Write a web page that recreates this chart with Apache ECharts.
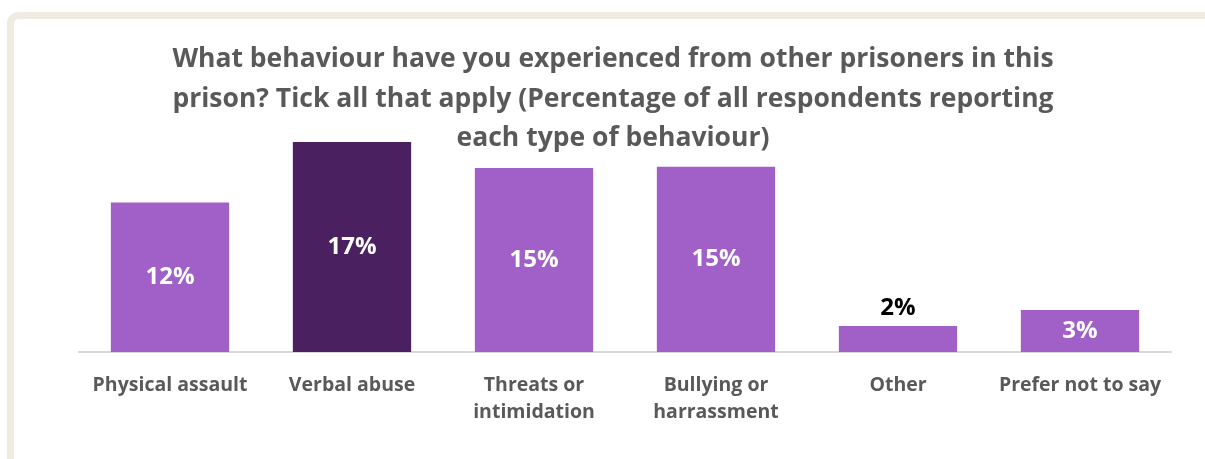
<!DOCTYPE html>
<html>
<head>
<meta charset="utf-8">
<script src="https://cdn.jsdelivr.net/npm/echarts@6/dist/echarts.min.js"></script>
<style>
html,body{margin:0;padding:0;background:#fff;}
#chart{width:1205px;height:459px;}
</style>
</head>
<body>
<div id="chart"></div>
<script>
const titleText = "What behaviour have you experienced from other prisoners in this\nprison? Tick all that apply (Percentage of all respondents reporting\neach type of behaviour)";
const categories = ["Physical assault", "Verbal abuse", "Threats or\nintimidation", "Bullying or\nharrassment", "Other", "Prefer not to say"];
const values = [12.1, 17.0, 14.9, 15.0, 2.1, 3.4];
const barColors = ["#A160C7", "#4A2060", "#A160C7", "#A160C7", "#A160C7", "#A160C7"];
const outsideLabel = [false, false, false, false, true, false];

const chart = echarts.init(document.getElementById('chart'), null, {renderer: 'canvas'});
const font = '"Open Sans", sans-serif';
chart.setOption({
  animation: false,
  graphic: [{
    type: 'rect',
    shape: {x: 10.5, y: 15.5, width: 1400, height: 700, r: 8},
    style: {fill: null, stroke: '#EEEBE0', lineWidth: 7},
    z: 0
  }],
  title: {
    text: titleText,
    left: 608,
    top: 35,
    textAlign: 'center',
    textStyle: {fontFamily: font, fontWeight: 'bold', fontSize: 26.5, color: '#595959', lineHeight: 39.5}
  },
  grid: {left: 79, right: 34, top: 105, bottom: 107},
  xAxis: {
    type: 'category',
    data: categories,
    axisLine: {lineStyle: {color: '#D9D9D9', width: 2}},
    axisTick: {show: false},
    axisLabel: {fontFamily: font, fontWeight: 'bold', fontSize: 19.5, color: '#595959', margin: 20, lineHeight: 27, interval: 0}
  },
  yAxis: {type: 'value', min: 0, max: 20, show: false, splitLine: {show: false}},
  series: [{
    type: 'bar',
    barWidth: '65%',
    data: values.map((v, i) => ({
      value: v,
      itemStyle: {color: barColors[i]},
      label: outsideLabel[i] ? {position: 'top', color: '#000000', distance: 6} : {position: 'inside', color: '#FFFFFF'}
    })),
    label: {
      show: true,
      fontFamily: font,
      fontWeight: 'bold',
      fontSize: 24,
      formatter: p => Math.round(p.value) + '%'
    }
  }]
});
</script>
</body>
</html>
